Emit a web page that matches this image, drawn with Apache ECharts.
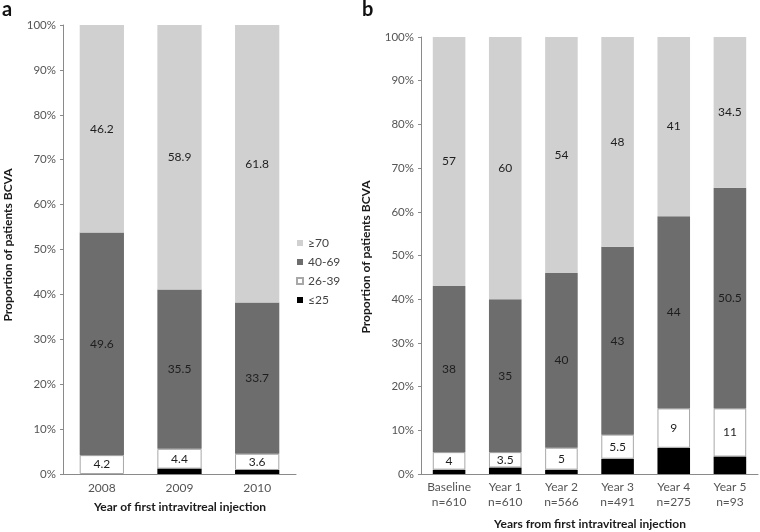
<!DOCTYPE html>
<html><head><meta charset="utf-8">
<script src="https://cdn.jsdelivr.net/npm/echarts@6/dist/echarts.min.js"></script>
<style>html,body{margin:0;padding:0;background:#fff}#c{width:760px;height:532px}</style>
</head><body><div id="c"></div>
<script>
// Panel a data
const catA = ['2008', '2009', '2010'];
const a_le25 = [0, 1.2, 0.9];
const a_26_39 = [4.2, 4.4, 3.6];
const a_40_69 = [49.6, 35.5, 33.7];
const a_ge70 = [46.2, 58.9, 61.8];
// Panel b data
const catB = ['Baseline\nn=610', 'Year 1\nn=610', 'Year 2\nn=566', 'Year 3\nn=491', 'Year 4\nn=275', 'Year 5\nn=93'];
const b_le25 = [1, 1.5, 1, 3.5, 6, 4];
const b_26_39 = [4, 3.5, 5, 5.5, 9, 11];
const b_40_69 = [38, 35, 40, 43, 44, 50.5];
const b_ge70 = [57, 60, 54, 48, 41, 34.5];
const groupNames = ['≥70', '40-69', '26-39', '≤25'];

const FONT = 'Lato';
const colors = {'≥70': '#d0d0d0', '40-69': '#6d6d6d', '26-39': '#ffffff', '≤25': '#000000'};
const chart = echarts.init(document.getElementById('c'), null, {renderer: 'canvas'});

function mk(name, data, axis, stack, width) {
  const isWhite = name === '26-39';
  return {
    name: name, type: 'bar', stack: stack, data: data,
    xAxisIndex: axis, yAxisIndex: axis, barWidth: width,
    itemStyle: {color: colors[name], borderColor: isWhite ? '#a8a8a8' : colors[name], borderWidth: isWhite ? 1 : 0},
    label: {
      show: name !== '≤25', position: 'inside', color: '#1e1e1e',
      fontFamily: FONT, fontSize: 12,
      formatter: p => String(p.value)
    },
    emphasis: {disabled: true}
  };
}

const yAxisBase = {
  type: 'value', min: 0, max: 100, interval: 10,
  axisLine: {show: true, lineStyle: {color: '#8a8a8a', width: 1}},
  axisTick: {show: true, length: 3, lineStyle: {color: '#8a8a8a'}},
  splitLine: {show: false},
  axisLabel: {formatter: '{value}%', color: '#555', fontFamily: FONT, fontSize: 11.5, margin: 7}
};
const xAxisBase = {
  type: 'category',
  axisLine: {show: true, lineStyle: {color: '#8a8a8a', width: 1}},
  axisTick: {show: false},
  axisLabel: {color: '#555', fontFamily: FONT, fontSize: 12, lineHeight: 15, margin: 7, interval: 0}
};

chart.setOption({
  animation: false,
  backgroundColor: '#fff',
  grid: [
    {left: 63, right: 464, top: 25, bottom: 58},
    {left: 421, right: 2, top: 37, bottom: 58}
  ],
  xAxis: [
    Object.assign({}, xAxisBase, {gridIndex: 0, data: catA}),
    Object.assign({}, xAxisBase, {gridIndex: 1, data: catB, axisLabel: Object.assign({}, xAxisBase.axisLabel, {margin: 6})})
  ],
  yAxis: [
    Object.assign({}, yAxisBase, {gridIndex: 0}),
    Object.assign({}, yAxisBase, {gridIndex: 1})
  ],
  legend: {
    orient: 'vertical', left: 291, top: 232, itemWidth: 6, itemHeight: 6, itemGap: 7,
    icon: 'rect', data: groupNames,
    textStyle: {color: '#444', fontFamily: FONT, fontSize: 12},
    selectedMode: false
  },
  series: [
    mk('≤25', a_le25, 0, 'a', '57%'),
    mk('26-39', a_26_39, 0, 'a', '57%'),
    mk('40-69', a_40_69, 0, 'a', '57%'),
    mk('≥70', a_ge70, 0, 'a', '57%'),
    mk('≤25', b_le25, 1, 'b', '58%'),
    mk('26-39', b_26_39, 1, 'b', '58%'),
    mk('40-69', b_40_69, 1, 'b', '58%'),
    mk('≥70', b_ge70, 1, 'b', '58%')
  ],
  graphic: [
    {type: 'text', left: 2, top: 0, style: {text: 'a', font: 'bold 20px ' + FONT, fill: '#111'}},
    {type: 'text', left: 362, top: 0, style: {text: 'b', font: 'bold 20px ' + FONT, fill: '#111'}},
    {type: 'text', x: 180, y: 507, style: {text: 'Year of first intravitreal injection', font: 'bold 12px ' + FONT, fill: '#1a1a1a', textAlign: 'center', textVerticalAlign: 'middle'}},
    {type: 'text', x: 590, y: 524, style: {text: 'Years from first intravitreal injection', font: 'bold 12px ' + FONT, fill: '#1a1a1a', textAlign: 'center', textVerticalAlign: 'middle'}},
    {type: 'text', x: 8, y: 245, rotation: Math.PI / 2, style: {text: 'Proportion of patients BCVA', font: 'bold 12px ' + FONT, fill: '#1a1a1a', textAlign: 'center', textVerticalAlign: 'middle'}},
    {type: 'text', x: 366, y: 257, rotation: Math.PI / 2, style: {text: 'Proportion of patients BCVA', font: 'bold 12px ' + FONT, fill: '#1a1a1a', textAlign: 'center', textVerticalAlign: 'middle'}}
  ]
});
</script>
</body></html>
